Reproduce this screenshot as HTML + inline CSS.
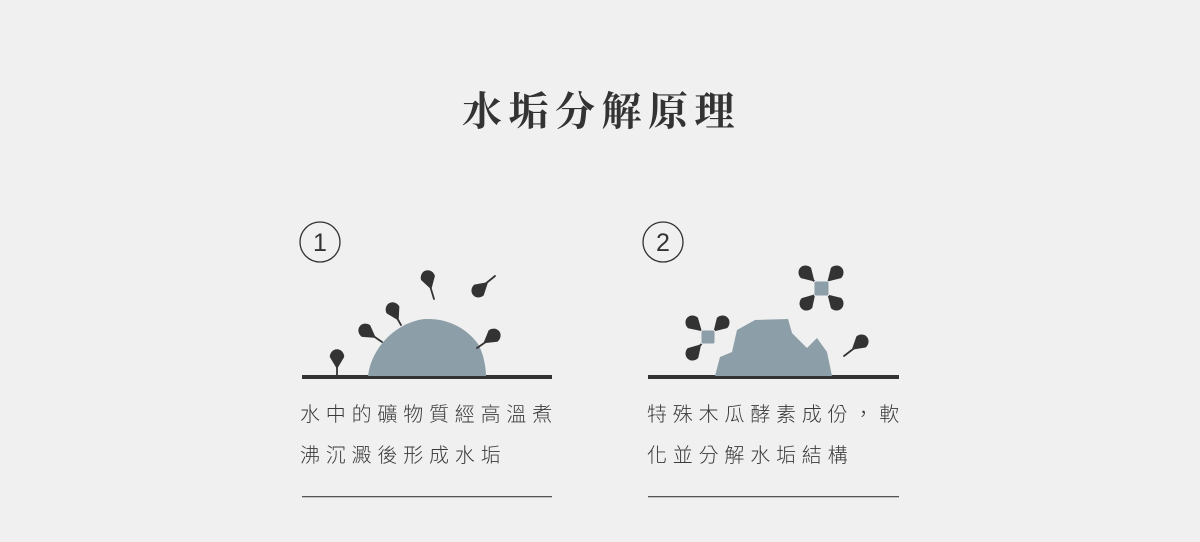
<!DOCTYPE html>
<html><head><meta charset="utf-8"><style>
html,body{margin:0;padding:0;background:#f0f0f0;}
body{width:1200px;height:542px;overflow:hidden;position:relative;}
.t{position:absolute;font-family:"Liberation Sans","Noto Sans CJK TC",sans-serif;font-weight:300;font-size:20px;letter-spacing:5.8px;color:#3a3a3a;white-space:nowrap;line-height:20px;}
.title{position:absolute;left:462px;top:90px;font-family:"Liberation Serif","Noto Serif CJK SC",serif;font-weight:bold;font-size:40px;letter-spacing:6.5px;color:#333;line-height:44px;white-space:nowrap;}
</style></head><body>
<div class="title">水垢分解原理</div>
<svg width="1200" height="542" style="position:absolute;left:0;top:0">
<defs>
<g id="d"><path d="M-6,0 A6,6.5 0 1,1 6,0 Q3,5 0,10 Q-3,5 -6,0Z" fill="#333" transform="scale(1.2)"/></g>
</defs>
<g fill="none" stroke="#333" stroke-width="1.3">
<circle cx="320" cy="242" r="20"/><circle cx="663" cy="242" r="20"/>
</g>
<text x="320" y="251" font-family="Liberation Sans" font-size="25" text-anchor="middle" fill="#333">1</text>
<text x="663" y="251" font-family="Liberation Sans" font-size="25" text-anchor="middle" fill="#333">2</text>
<rect x="302" y="375" width="250" height="4" fill="#333"/>
<rect x="648" y="375" width="251" height="4" fill="#333"/>
<rect x="302" y="496" width="250" height="1.3" fill="#555"/>
<rect x="648" y="496" width="251" height="1.3" fill="#555"/>
<path d="M368,376 C371,348 396,322 425,319 C450,318 468,330 478,344 C486,358 486,376 486,376 Z" fill="#8c9ea8"/>
<path d="M715,376 L720,357 L732,352 L737,330 L755,320 L788,319 L792,333 L807,348 L817,338 L827,352 L832,376 Z" fill="#8c9ea8"/>
<g stroke="#333" stroke-width="1.8" stroke-linecap="round">
<line x1="337" y1="360" x2="337" y2="376"/>
<line x1="366" y1="331" x2="382" y2="342"/>
<line x1="393" y1="311" x2="401" y2="325"/>
<line x1="428" y1="279" x2="434" y2="299"/>
<line x1="479" y1="289" x2="495" y2="276"/>
<line x1="493" y1="337" x2="477" y2="348"/>
<line x1="861" y1="343" x2="844" y2="356"/>
<line x1="806" y1="273" x2="836" y2="303"/><line x1="836" y1="273" x2="806" y2="303"/>
<line x1="693" y1="323" x2="708" y2="337"/><line x1="722" y1="323" x2="708" y2="337"/><line x1="693" y1="353" x2="708" y2="337"/>
</g>
<use href="#d" transform="translate(337,357) rotate(0)"/>
<use href="#d" transform="translate(366,331) rotate(-55)"/>
<use href="#d" transform="translate(393,310) rotate(-28)"/>
<use href="#d" transform="translate(428,278) rotate(-16)"/>
<use href="#d" transform="translate(479,290) rotate(-131)"/>
<use href="#d" transform="translate(493,336) rotate(53)"/>
<use href="#d" transform="translate(861,342) rotate(50)"/>
<use href="#d" transform="translate(806,273) rotate(-45)"/>
<use href="#d" transform="translate(836,273) rotate(45)"/>
<use href="#d" transform="translate(807,303) rotate(-137)"/>
<use href="#d" transform="translate(836,303) rotate(135)"/>
<use href="#d" transform="translate(693,323) rotate(-47)"/>
<use href="#d" transform="translate(722,323) rotate(45)"/>
<use href="#d" transform="translate(693,353) rotate(-137)"/>
<rect x="814" y="281" width="15" height="15" rx="2" fill="#8c9ea8" stroke="#f0f0f0" stroke-width="1"/>
<rect x="701" y="330" width="14" height="14" rx="2" fill="#8c9ea8" stroke="#f0f0f0" stroke-width="1"/>
</svg>
<div class="t" style="left:300px;top:405px">水中的礦物質經高溫煮</div>
<div class="t" style="left:300px;top:446px">沸沉澱後形成水垢</div>
<div class="t" style="left:647px;top:405px">特殊木瓜酵素成份，軟</div>
<div class="t" style="left:647px;top:446px">化並分解水垢結構</div>
</body></html>
